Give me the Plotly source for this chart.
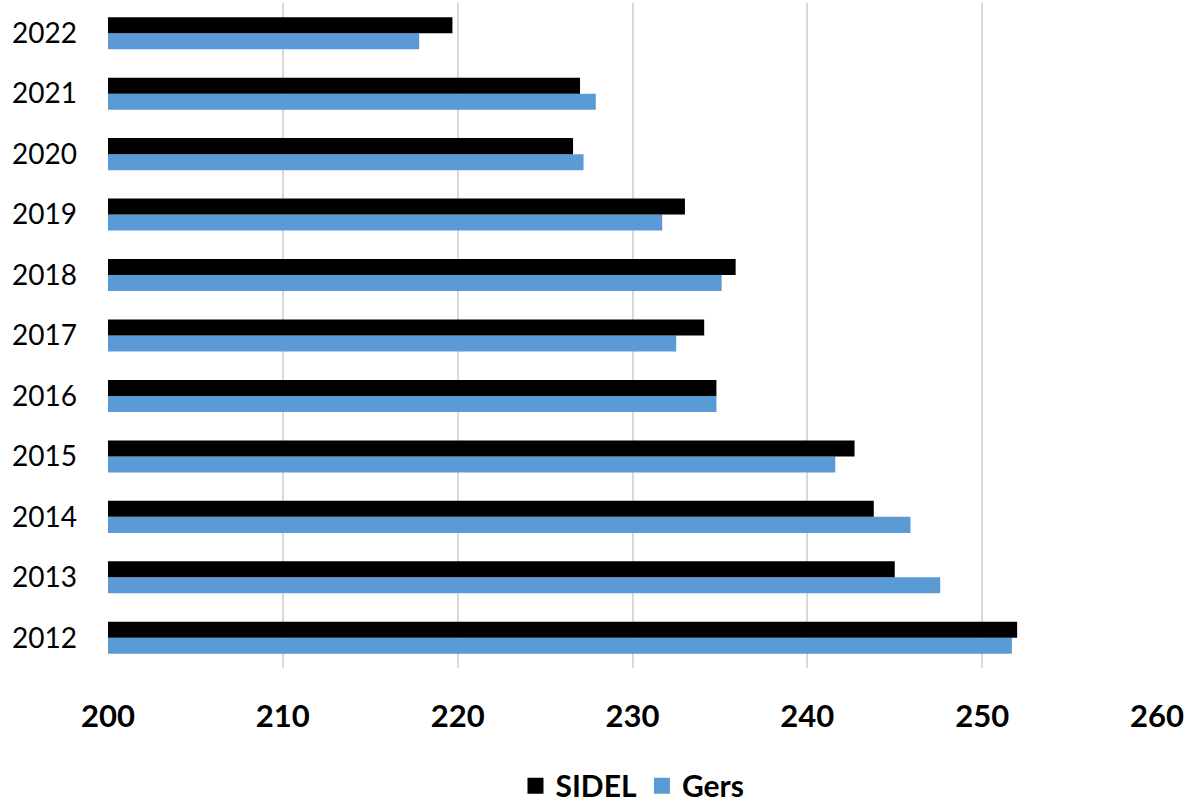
import plotly.graph_objects as go

years = ["2012", "2013", "2014", "2015", "2016", "2017", "2018", "2019", "2020", "2021", "2022"]
sidel = [252.0, 245.0, 243.8, 242.7, 234.8, 234.1, 235.9, 233.0, 226.6, 227.0, 219.7]
gers = [251.7, 247.6, 245.9, 241.6, 234.8, 232.5, 235.1, 231.7, 227.2, 227.9, 217.8]
x_ticks = [200, 210, 220, 230, 240, 250, 260]

BLACK = "#000000"
BLUE = "#5B9BD5"

fig = go.Figure()
# Gers first so that SIDEL is drawn above it within each group
fig.add_trace(go.Bar(y=years, x=gers, orientation="h", name="Gers",
                     marker=dict(color=BLUE, line=dict(width=0)), showlegend=False))
fig.add_trace(go.Bar(y=years, x=sidel, orientation="h", name="SIDEL",
                     marker=dict(color=BLACK, line=dict(width=0)), showlegend=False))
# legend entries
fig.add_trace(go.Scatter(x=[None], y=[None], mode="markers", name="SIDEL",
                         marker=dict(symbol="square", size=16, color=BLACK)))
fig.add_trace(go.Scatter(x=[None], y=[None], mode="markers", name="Gers",
                         marker=dict(symbol="square", size=16, color=BLUE)))

fig.update_layout(
    width=1190, height=802,
    margin=dict(l=108, r=33, t=3, b=134, autoexpand=False),
    paper_bgcolor="white", plot_bgcolor="white",
    barmode="group", bargap=0.47, bargroupgap=0,
    font=dict(family="Lato, Carlito, sans-serif", color="black"),
    showlegend=True,
    legend=dict(orientation="h", x=0.5, xanchor="center", y=-0.177, yanchor="middle",
                font=dict(size=30, family="Lato, sans-serif", weight="bold"),
                itemsizing="trace", tracegroupgap=0, itemwidth=30),
    xaxis=dict(range=[200, 260], tickvals=x_ticks, showgrid=True, gridcolor="#D9D9D9",
               gridwidth=1.5, zeroline=False, showline=False, ticks="",
               tickfont=dict(size=31, family="Lato, sans-serif", weight="bold"),
               ticklabelstandoff=27, automargin=False),
    yaxis=dict(type="category", categoryorder="array", categoryarray=years,
               showgrid=False, zeroline=False, showline=False, ticks="",
               tickfont=dict(size=28, family="Lato, sans-serif"),
               ticklabelstandoff=30, automargin=False),
)

fig.write_html("out.html", post_script="document.body.style.margin='0';",
               config={"displayModeBar": False})
